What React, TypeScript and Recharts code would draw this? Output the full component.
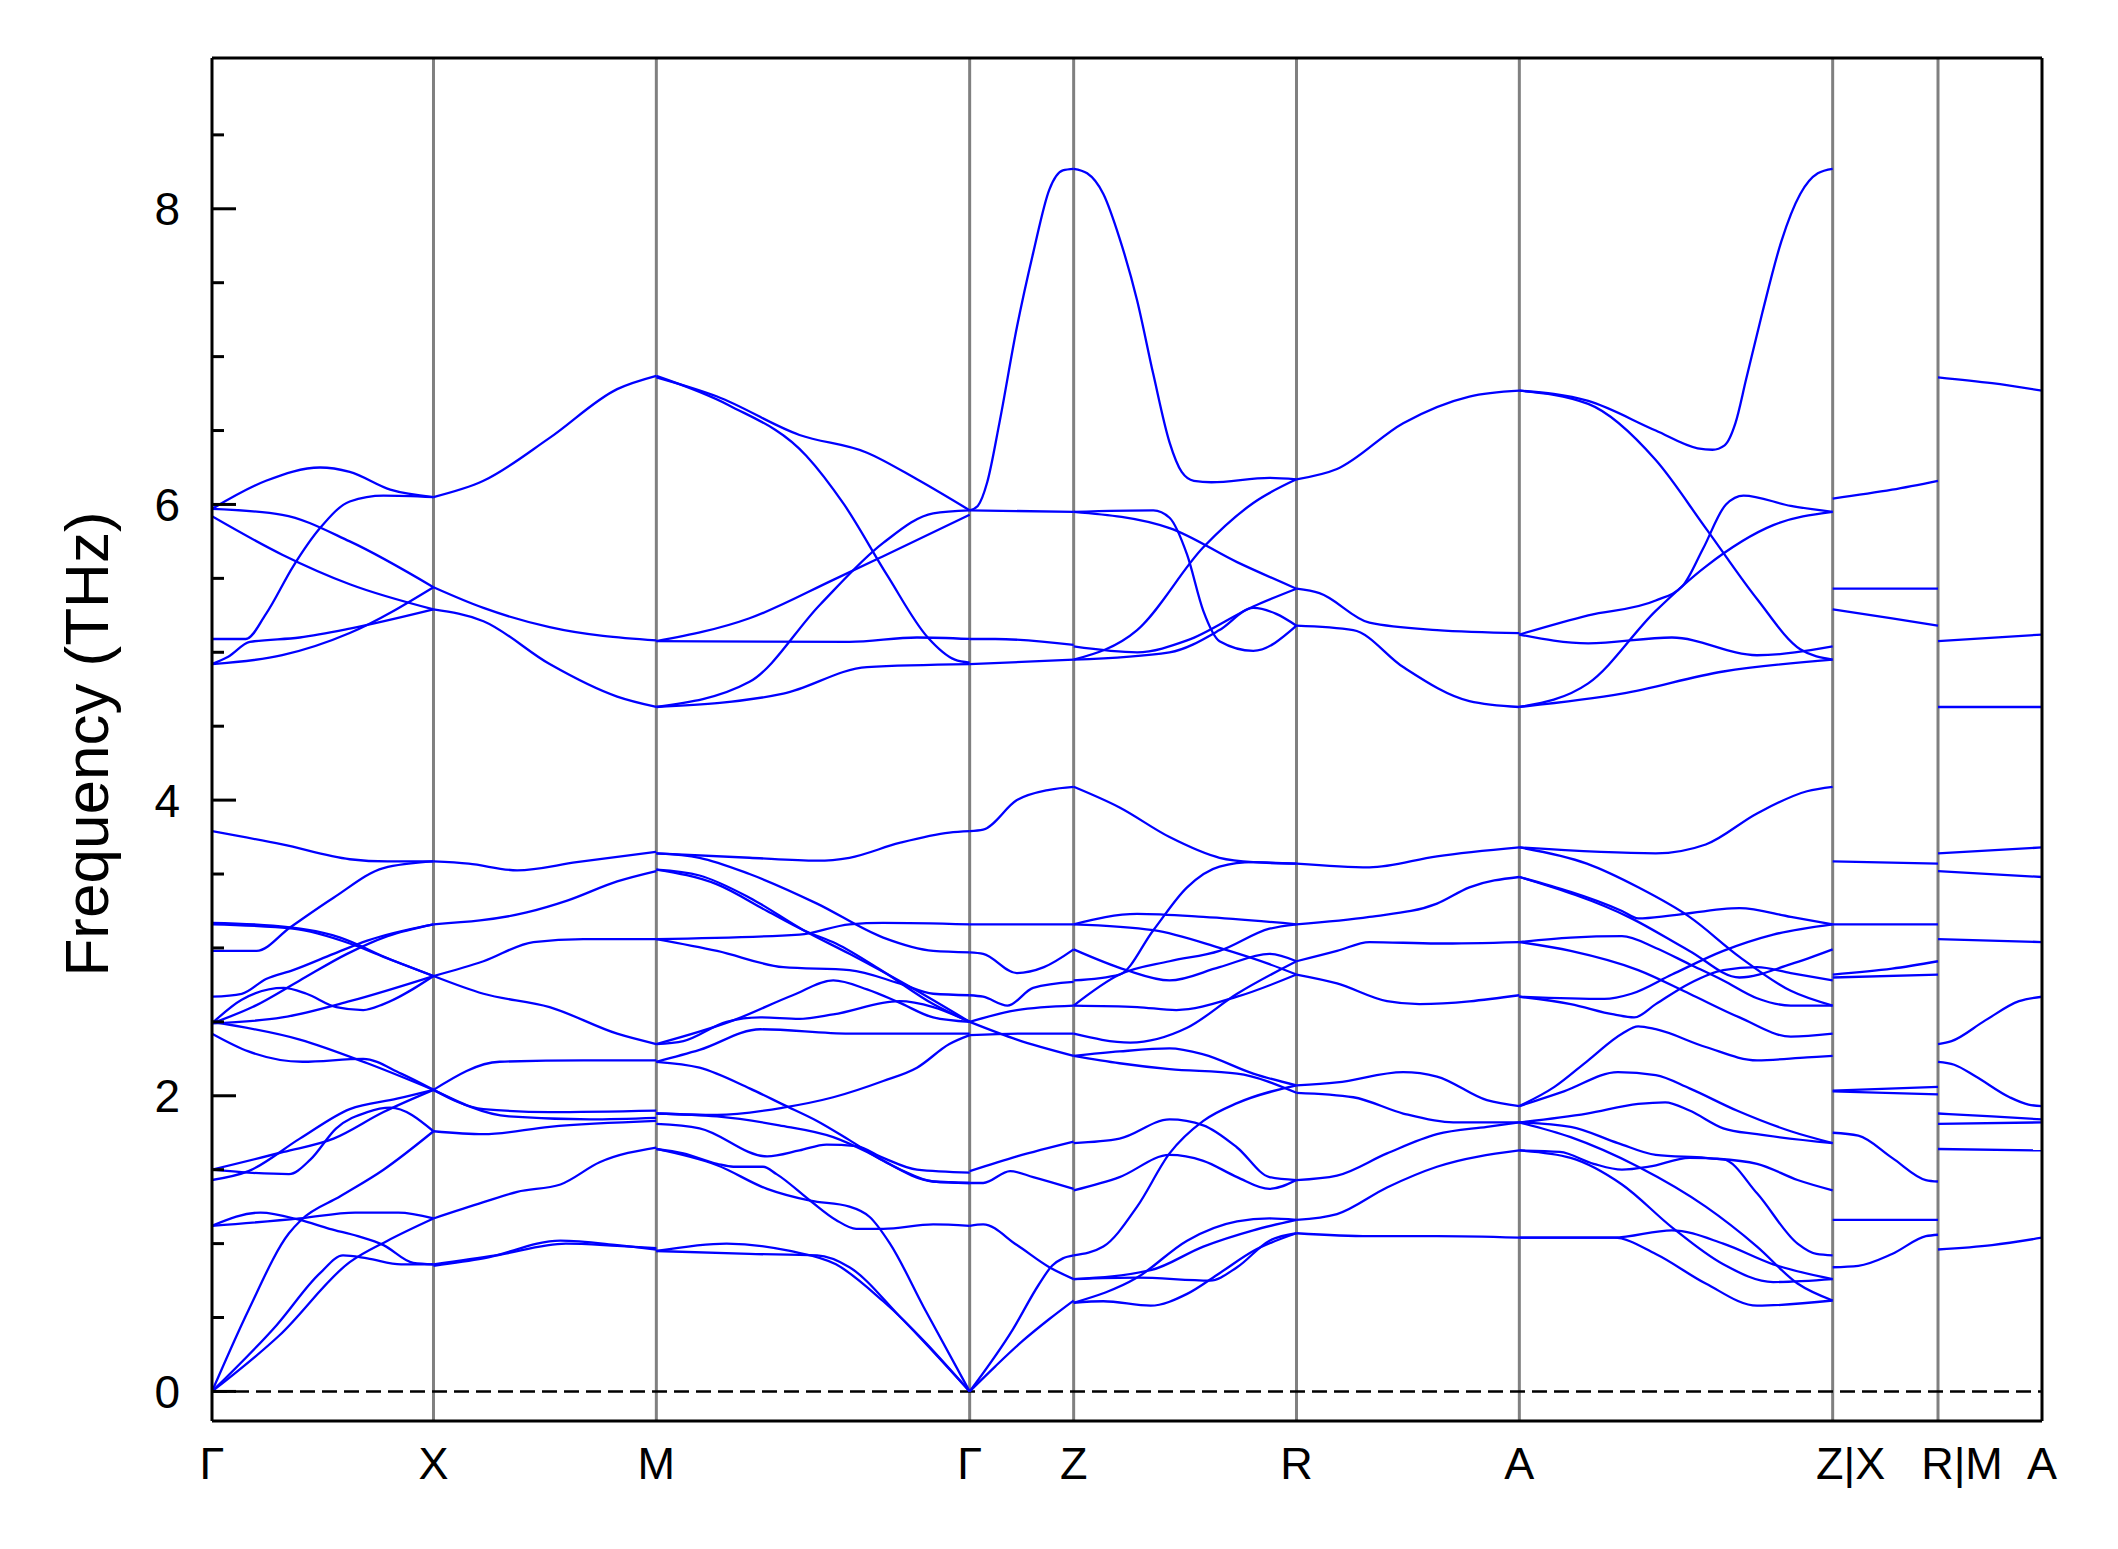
import React from "react";
import { LineChart, Line, XAxis, YAxis, ReferenceLine } from "recharts";

type Pt = [number, number];

// path positions of the high-symmetry points and their labels
const KPOINTS = [0, 164, 329, 561, 638, 803, 968, 1200, 1278, 1355];
const KLABELS = ["Γ", "X", "M", "Γ", "Z", "R", "A", "Z|X", "R|M", "A"];
const Y_TICKS = [0, 0.5, 1, 1.5, 2, 2.5, 3, 3.5, 4, 4.5, 5, 5.5, 6, 6.5, 7, 7.5, 8, 8.5];
const Y_LABELED = [0, 2, 4, 6, 8];

// band curves, one array per path segment: [path position, frequency THz]
const GAMMA_X: Pt[][] = [
  [[0, 0], [27, 0.55], [57, 1.07], [66, 1.16], [95, 1.32], [127, 1.5], [164, 1.76]],
  [[0, 0], [48, 0.45], [80, 0.8], [97, 0.92], [115, 0.9], [140, 0.86], [164, 0.86]],
  [[0, 0], [50, 0.38], [102, 0.875], [130, 1.02], [164, 1.17]],
  [[0, 1.12], [65, 1.17], [106, 1.21], [138, 1.21], [164, 1.17]],
  [[0, 1.12], [36, 1.21], [65, 1.16], [87, 1.1], [108, 1.05], [127, 0.99], [149, 0.87], [164, 0.86]],
  [[0, 1.43], [27, 1.49], [65, 1.71], [102, 1.91], [137, 1.98], [164, 2.04]],
  [[0, 1.5], [27, 1.48], [57, 1.47], [73, 1.57], [92, 1.78], [115, 1.89], [132, 1.92], [164, 1.76]],
  [[0, 1.5], [53, 1.62], [90, 1.71], [127, 1.89], [164, 2.04]],
  [[0, 2.5], [65, 2.38], [115, 2.22], [164, 2.04]],
  [[0, 2.42], [27, 2.3], [67, 2.23], [112, 2.25], [140, 2.15], [164, 2.04]],
  [[0, 3.79], [52, 3.7], [102, 3.6], [130, 3.585], [164, 3.585]],
  [[0, 2.98], [33, 2.98], [58, 3.14], [90, 3.34], [127, 3.54], [164, 3.585]],
  [[0, 3.16], [60, 3.13], [102, 3.03], [127, 2.94], [164, 2.81]],
  [[0, 3.17], [45, 3.15], [95, 3.07], [130, 2.93], [164, 2.81]],
  [[0, 2.67], [22, 2.69], [40, 2.79], [60, 2.85], [90, 2.96], [115, 3.05], [164, 3.16]],
  [[0, 2.49], [22, 2.65], [53, 2.73], [70, 2.69], [92, 2.6], [112, 2.58], [127, 2.62], [164, 2.81]],
  [[0, 2.49], [30, 2.6], [65, 2.78], [100, 2.96], [130, 3.08], [164, 3.16]],
  [[0, 2.49], [52, 2.53], [102, 2.64], [164, 2.81]],
  [[0, 5.97], [40, 6.16], [80, 6.25], [102, 6.22], [132, 6.1], [164, 6.05]],
  [[0, 5.09], [25, 5.09], [40, 5.26], [60, 5.58], [80, 5.84], [102, 6.02], [127, 6.06], [164, 6.05]],
  [[0, 5.97], [52, 5.93], [102, 5.75], [164, 5.44]],
  [[0, 5.92], [52, 5.66], [102, 5.46], [164, 5.29]],
  [[0, 4.92], [12, 4.97], [28, 5.07], [65, 5.1], [102, 5.16], [164, 5.29]],
  [[0, 4.92], [52, 4.98], [102, 5.13], [164, 5.44]],
];

const X_M: Pt[][] = [
  [[164, 0.85], [201, 0.9], [258, 1.02], [300, 0.99], [329, 0.96]],
  [[164, 0.86], [210, 0.92], [262, 1.0], [300, 0.985], [329, 0.97]],
  [[164, 1.17], [201, 1.28], [226, 1.35], [258, 1.4], [287, 1.55], [329, 1.65]],
  [[164, 1.76], [201, 1.74], [250, 1.79], [329, 1.83]],
  [[164, 2.04], [201, 1.91], [250, 1.89], [329, 1.9]],
  [[164, 2.04], [213, 2.23], [275, 2.24], [329, 2.24]],
  [[164, 2.04], [220, 1.86], [280, 1.84], [329, 1.85]],
  [[164, 2.81], [201, 2.69], [250, 2.6], [300, 2.42], [329, 2.35]],
  [[164, 2.81], [201, 2.91], [238, 3.04], [275, 3.06], [329, 3.06]],
  [[164, 3.16], [233, 3.24], [263, 3.32], [300, 3.45], [329, 3.52]],
  [[164, 3.585], [190, 3.57], [226, 3.525], [270, 3.58], [329, 3.65]],
  [[164, 5.44], [201, 5.3], [250, 5.17], [329, 5.08]],
  [[164, 5.29], [201, 5.21], [250, 4.92], [300, 4.7], [329, 4.63]],
  [[164, 6.05], [201, 6.16], [250, 6.45], [300, 6.78], [329, 6.87]],
];

const M_GAMMA: Pt[][] = [
  [[329, 0.95], [381, 1.0], [428, 0.95], [462, 0.86], [497, 0.61], [561, 0]],
  [[329, 0.95], [398, 0.93], [448, 0.92], [472, 0.84], [510, 0.5], [561, 0]],
  [[329, 1.64], [374, 1.53], [411, 1.37], [443, 1.29], [472, 1.25], [487, 1.18], [502, 1.0], [527, 0.57], [561, 0]],
  [[329, 1.64], [349, 1.61], [374, 1.54], [386, 1.52], [408, 1.52], [418, 1.47], [443, 1.29], [462, 1.16], [477, 1.1], [497, 1.1], [534, 1.13], [561, 1.12]],
  [[329, 2.23], [361, 2.19], [398, 2.05], [423, 1.94], [448, 1.83], [472, 1.7], [497, 1.56], [534, 1.42], [561, 1.41]],
  [[329, 1.88], [374, 1.87], [423, 1.92], [460, 1.99], [497, 2.1], [522, 2.19], [546, 2.35], [561, 2.41]],
  [[329, 1.81], [361, 1.78], [411, 1.59], [435, 1.63], [455, 1.67], [477, 1.66], [497, 1.58], [522, 1.5], [561, 1.48]],
  [[329, 1.88], [374, 1.86], [420, 1.8], [460, 1.72], [485, 1.62], [510, 1.5], [534, 1.42], [561, 1.41]],
  [[329, 2.35], [349, 2.37], [381, 2.5], [406, 2.53], [435, 2.52], [460, 2.55], [509, 2.64], [534, 2.6], [561, 2.5]],
  [[329, 2.23], [361, 2.31], [406, 2.45], [472, 2.42], [520, 2.42], [561, 2.42]],
  [[329, 2.35], [386, 2.51], [430, 2.68], [460, 2.78], [485, 2.72], [509, 2.63], [534, 2.53], [561, 2.5]],
  [[329, 3.64], [398, 3.61], [448, 3.59], [472, 3.61], [509, 3.71], [546, 3.78], [561, 3.79]],
  [[329, 3.64], [361, 3.61], [398, 3.5], [448, 3.3], [497, 3.07], [534, 2.98], [561, 2.97]],
  [[329, 3.53], [374, 3.43], [411, 3.25], [438, 3.12], [462, 3.03], [497, 2.84], [534, 2.62], [561, 2.5]],
  [[329, 3.53], [361, 3.49], [398, 3.34], [438, 3.12], [472, 2.96], [522, 2.71], [561, 2.5]],
  [[329, 3.06], [435, 3.09], [472, 3.16], [497, 3.17], [561, 3.16]],
  [[329, 3.06], [374, 2.98], [423, 2.87], [472, 2.85], [509, 2.76], [534, 2.69], [561, 2.68]],
  [[329, 6.86], [374, 6.73], [435, 6.47], [485, 6.35], [522, 6.17], [561, 5.96]],
  [[329, 6.87], [383, 6.67], [440, 6.33], [468, 6.0], [500, 5.52], [530, 5.1], [550, 4.95], [561, 4.93]],
  [[329, 5.075], [472, 5.07], [522, 5.1], [561, 5.09]],
  [[329, 5.075], [398, 5.23], [460, 5.49], [497, 5.65], [561, 5.93]],
  [[329, 4.63], [398, 4.8], [450, 5.32], [497, 5.74], [534, 5.94], [561, 5.96]],
  [[329, 4.63], [423, 4.72], [485, 4.9], [561, 4.92]],
];

const GAMMA_Z: Pt[][] = [
  [[561, 0], [593, 0.42], [612, 0.72], [622, 0.85], [630, 0.9], [638, 0.92]],
  [[561, 0], [580, 0.17], [600, 0.34], [620, 0.49], [638, 0.615]],
  [[561, 1.12], [571, 1.13], [596, 0.99], [620, 0.84], [638, 0.76]],
  [[561, 1.41], [571, 1.41], [591, 1.49], [608, 1.45], [638, 1.37]],
  [[561, 1.49], [596, 1.59], [638, 1.69]],
  [[561, 2.41], [600, 2.42], [638, 2.42]],
  [[561, 2.5], [596, 2.58], [638, 2.61]],
  [[561, 2.5], [596, 2.38], [638, 2.27]],
  [[561, 2.68], [571, 2.67], [589, 2.61], [608, 2.73], [638, 2.77]],
  [[561, 2.97], [571, 2.96], [596, 2.83], [616, 2.87], [638, 2.99]],
  [[561, 3.16], [638, 3.16]],
  [[561, 3.79], [571, 3.8], [596, 4.0], [620, 4.07], [638, 4.09]],
  [[561, 5.96], [567, 5.99], [574, 6.15], [583, 6.55], [596, 7.2], [608, 7.7], [620, 8.13], [630, 8.26], [638, 8.27]],
  [[561, 5.96], [638, 5.95]],
  [[561, 5.09], [580, 5.09], [638, 5.05]],
  [[561, 4.92], [638, 4.95]],
];

const Z_R: Pt[][] = [
  [[638, 0.6], [660, 0.61], [695, 0.58], [722, 0.66], [746, 0.8], [771, 0.95], [803, 1.07]],
  [[638, 0.6], [685, 0.77], [722, 1.02], [759, 1.15], [783, 1.17], [803, 1.16]],
  [[638, 0.76], [685, 0.77], [739, 0.75], [759, 0.84], [783, 1.02], [803, 1.07]],
  [[638, 0.76], [695, 0.82], [734, 0.98], [771, 1.09], [803, 1.16]],
  [[638, 0.92], [660, 0.98], [685, 1.25], [709, 1.61], [734, 1.83], [759, 1.95], [803, 2.07]],
  [[638, 1.36], [672, 1.45], [709, 1.6], [734, 1.56], [759, 1.45], [783, 1.37], [803, 1.43]],
  [[638, 1.68], [672, 1.71], [709, 1.84], [734, 1.8], [759, 1.65], [783, 1.45], [803, 1.43]],
  [[638, 2.27], [672, 2.22], [709, 2.18], [759, 2.15], [803, 2.02]],
  [[638, 2.27], [672, 2.3], [709, 2.32], [734, 2.28], [771, 2.15], [803, 2.07]],
  [[638, 2.42], [680, 2.36], [722, 2.46], [759, 2.69], [803, 2.91]],
  [[638, 2.61], [685, 2.6], [714, 2.58], [759, 2.67], [803, 2.82]],
  [[638, 2.61], [672, 2.82], [709, 2.91], [746, 2.98], [783, 3.13], [803, 3.16]],
  [[638, 2.78], [672, 2.82], [697, 3.12], [722, 3.41], [746, 3.55], [771, 3.58], [803, 3.57]],
  [[638, 2.99], [677, 2.85], [709, 2.78], [746, 2.87], [783, 2.96], [803, 2.91]],
  [[638, 3.16], [685, 3.23], [734, 3.21], [803, 3.16]],
  [[638, 3.16], [697, 3.12], [746, 3.0], [783, 2.89], [803, 2.82]],
  [[638, 4.09], [672, 3.95], [709, 3.75], [746, 3.61], [771, 3.58], [803, 3.57]],
  [[638, 8.27], [648, 8.24], [660, 8.1], [672, 7.8], [685, 7.38], [697, 6.88], [709, 6.42], [718, 6.22], [727, 6.16], [740, 6.15], [783, 6.18], [803, 6.17]],
  [[638, 4.95], [685, 5.15], [734, 5.71], [771, 6.01], [803, 6.17]],
  [[638, 5.95], [697, 5.96], [709, 5.91], [722, 5.66], [734, 5.28], [746, 5.075], [771, 5.01], [803, 5.18]],
  [[638, 5.95], [709, 5.84], [759, 5.61], [803, 5.43]],
  [[638, 5.04], [685, 5.0], [722, 5.08], [771, 5.31], [803, 5.43]],
  [[638, 4.95], [709, 5.0], [746, 5.15], [771, 5.3], [788, 5.26], [803, 5.18]],
];

const R_A: Pt[][] = [
  [[803, 1.07], [857, 1.05], [907, 1.05], [968, 1.04]],
  [[803, 1.16], [833, 1.2], [870, 1.38], [907, 1.52], [968, 1.63]],
  [[803, 1.43], [833, 1.46], [870, 1.61], [907, 1.74], [944, 1.79], [968, 1.82]],
  [[803, 2.02], [845, 1.99], [882, 1.88], [919, 1.82], [968, 1.82]],
  [[803, 2.07], [833, 2.09], [882, 2.16], [907, 2.13], [944, 1.97], [968, 1.93]],
  [[803, 2.82], [833, 2.76], [870, 2.64], [894, 2.62], [968, 2.68]],
  [[803, 2.91], [833, 2.98], [857, 3.04], [907, 3.03], [968, 3.04]],
  [[803, 3.16], [857, 3.21], [907, 3.3], [931, 3.41], [968, 3.48]],
  [[803, 3.57], [857, 3.545], [907, 3.62], [968, 3.68]],
  [[803, 5.18], [845, 5.15], [882, 4.9], [931, 4.67], [968, 4.63]],
  [[803, 5.43], [820, 5.4], [857, 5.2], [907, 5.15], [968, 5.13]],
  [[803, 6.17], [833, 6.24], [882, 6.55], [931, 6.73], [968, 6.77]],
];

const A_Z: Pt[][] = [
  [[968, 1.93], [994, 2.06], [1019, 2.24], [1044, 2.42], [1056, 2.47], [1069, 2.45], [1106, 2.33], [1144, 2.24], [1181, 2.26], [1200, 2.27]],
  [[968, 1.93], [1001, 2.03], [1041, 2.16], [1069, 2.14], [1094, 2.05], [1129, 1.9], [1169, 1.76], [1200, 1.68]],
  [[968, 1.82], [1018, 1.88], [1056, 1.945], [1076, 1.956], [1094, 1.9], [1119, 1.78], [1144, 1.74], [1200, 1.68]],
  [[968, 1.82], [1006, 1.79], [1041, 1.68], [1069, 1.6], [1106, 1.58], [1144, 1.54], [1174, 1.43], [1200, 1.36]],
  [[968, 1.82], [1006, 1.72], [1056, 1.52], [1106, 1.25], [1144, 0.98], [1174, 0.73], [1200, 0.615]],
  [[968, 1.63], [998, 1.62], [1023, 1.54], [1044, 1.5], [1064, 1.52], [1094, 1.58], [1119, 1.57], [1144, 1.34], [1174, 1.0], [1188, 0.93], [1200, 0.92]],
  [[968, 1.63], [1006, 1.58], [1044, 1.4], [1081, 1.11], [1119, 0.86], [1156, 0.74], [1200, 0.76]],
  [[968, 1.04], [1038, 1.04], [1081, 1.09], [1119, 1.0], [1156, 0.86], [1200, 0.76]],
  [[968, 1.04], [1038, 1.04], [1069, 0.93], [1106, 0.73], [1144, 0.58], [1200, 0.615]],
  [[968, 3.68], [1069, 3.64], [1106, 3.7], [1144, 3.91], [1181, 4.06], [1200, 4.09]],
  [[968, 3.68], [1018, 3.57], [1056, 3.41], [1094, 3.21], [1131, 2.94], [1169, 2.71], [1200, 2.61]],
  [[968, 3.48], [1044, 3.25], [1056, 3.2], [1081, 3.22], [1131, 3.27], [1169, 3.21], [1200, 3.16]],
  [[968, 3.48], [1051, 3.2], [1094, 2.98], [1131, 2.8], [1169, 2.89], [1200, 2.99]],
  [[968, 3.04], [1006, 3.07], [1044, 3.08], [1069, 3.0], [1094, 2.89], [1119, 2.78], [1144, 2.66], [1169, 2.61], [1200, 2.61]],
  [[968, 3.04], [1006, 2.98], [1056, 2.85], [1094, 2.69], [1131, 2.53], [1169, 2.4], [1200, 2.42]],
  [[968, 2.67], [1031, 2.655], [1051, 2.69], [1081, 2.82], [1119, 2.98], [1156, 3.09], [1200, 3.16]],
  [[968, 2.67], [1006, 2.62], [1038, 2.55], [1053, 2.53], [1069, 2.62], [1094, 2.76], [1119, 2.85], [1144, 2.87], [1169, 2.83], [1200, 2.78]],
  [[968, 6.77], [1019, 6.7], [1069, 6.5], [1100, 6.38], [1111, 6.37], [1120, 6.4], [1128, 6.55], [1136, 6.85], [1148, 7.3], [1162, 7.78], [1176, 8.1], [1189, 8.24], [1200, 8.27]],
  [[968, 6.77], [1019, 6.68], [1069, 6.3], [1106, 5.84], [1144, 5.36], [1176, 5.02], [1200, 4.95]],
  [[968, 5.12], [1019, 5.25], [1069, 5.35], [1089, 5.45], [1104, 5.7], [1121, 6.0], [1134, 6.06], [1169, 5.99], [1200, 5.95]],
  [[968, 5.12], [1019, 5.06], [1081, 5.1], [1144, 4.98], [1200, 5.04]],
  [[968, 4.63], [1019, 4.79], [1069, 5.28], [1106, 5.58], [1156, 5.86], [1200, 5.95]],
  [[968, 4.63], [1044, 4.72], [1119, 4.87], [1200, 4.95]],
];

const X_R: Pt[][] = [
  [[1200, 0.84], [1219, 0.85], [1244, 0.93], [1269, 1.05], [1278, 1.06]],
  [[1200, 1.16], [1278, 1.16]],
  [[1200, 1.75], [1219, 1.73], [1244, 1.58], [1269, 1.43], [1278, 1.42]],
  [[1200, 2.035], [1278, 2.06]],
  [[1200, 2.03], [1278, 2.01]],
  [[1200, 2.82], [1244, 2.86], [1278, 2.91]],
  [[1200, 2.8], [1278, 2.82]],
  [[1200, 3.16], [1278, 3.16]],
  [[1200, 3.585], [1278, 3.57]],
  [[1200, 5.29], [1244, 5.23], [1278, 5.18]],
  [[1200, 5.43], [1278, 5.43]],
  [[1200, 6.04], [1244, 6.1], [1278, 6.16]],
];

const M_A: Pt[][] = [
  [[1278, 0.96], [1318, 0.99], [1355, 1.04]],
  [[1278, 1.64], [1355, 1.63]],
  [[1278, 1.81], [1355, 1.82]],
  [[1278, 1.88], [1318, 1.86], [1355, 1.84]],
  [[1278, 2.23], [1290, 2.21], [1306, 2.13], [1331, 1.99], [1345, 1.94], [1355, 1.93]],
  [[1278, 2.35], [1288, 2.37], [1313, 2.51], [1338, 2.64], [1355, 2.67]],
  [[1278, 3.06], [1355, 3.04]],
  [[1278, 3.52], [1355, 3.48]],
  [[1278, 3.64], [1355, 3.68]],
  [[1278, 4.63], [1355, 4.63]],
  [[1278, 5.075], [1355, 5.12]],
  [[1278, 6.86], [1318, 6.82], [1355, 6.77]],
];

const SEGMENTS = [GAMMA_X, X_M, M_GAMMA, GAMMA_Z, Z_R, R_A, A_Z, X_R, M_A];
const CURVES = SEGMENTS.flat().map((c) => c.map(([x, f]) => ({ x, f })));

const FONT = "'Liberation Sans', Arial, Helvetica, sans-serif";
const PLOT_LEFT = 212;
const PLOT_BOTTOM = 1421;

const YTick = (props: any) => {
  const { y, payload } = props;
  const major = Y_LABELED.includes(payload.value);
  return (
    <g>
      <line x1={PLOT_LEFT} x2={PLOT_LEFT + (major ? 24 : 12)} y1={y} y2={y} stroke="#000" strokeWidth={3} />
      {major && (
        <text x={180} y={y} dy="0.36em" textAnchor="end" fontSize={46} fontFamily={FONT} fill="#000">
          {payload.value}
        </text>
      )}
    </g>
  );
};

const XTick = (props: any) => {
  const { x, payload } = props;
  const i = KPOINTS.indexOf(payload.value);
  const label = KLABELS[i];
  // the two joined labels sit a little right of their lines in the reference
  const shift = label === "Z|X" ? 18 : label === "R|M" ? 24 : 0;
  return (
    <text x={x + shift} y={PLOT_BOTTOM + 58} textAnchor="middle" fontSize={45} fontFamily={FONT} fill="#000">
      {label}
    </text>
  );
};

const YLabel = () => (
  <text
    x={108}
    y={744}
    transform="rotate(-90 108 744)"
    textAnchor="middle"
    fontSize={62}
    fontFamily={FONT}
    fill="#000"
  >
    Frequency (THz)
  </text>
);

export default function App() {
  return (
    <div style={{ position: "absolute", left: 0, top: 0, width: 2118, height: 1549, background: "#fff" }}>
      <LineChart width={2118} height={1549} margin={{ top: 58, right: 76, bottom: 68, left: 132 }}>
        <XAxis
          type="number"
          dataKey="x"
          domain={[0, 1355]}
          ticks={KPOINTS}
          interval={0}
          allowDataOverflow
          tick={<XTick />}
          tickLine={false}
          tickSize={0}
          height={60}
          axisLine={{ stroke: "#000", strokeWidth: 3 }}
        />
        <YAxis
          type="number"
          domain={[-0.2, 9.02]}
          ticks={Y_TICKS}
          interval={0}
          allowDataOverflow
          tick={<YTick />}
          tickLine={false}
          tickSize={0}
          width={80}
          axisLine={{ stroke: "#000", strokeWidth: 3 }}
          label={<YLabel />}
        />
        {KPOINTS.slice(1, -1).map((k, i) => (
          <ReferenceLine key={"k" + i} x={k} stroke="#808080" strokeWidth={3} />
        ))}
        <ReferenceLine y={0} stroke="#000" strokeWidth={2.6} strokeDasharray="15 7" />
        {CURVES.map((d, i) => (
          <Line
            key={i}
            data={d}
            dataKey="f"
            type="monotone"
            stroke="#0000ff"
            strokeWidth={2.3}
            dot={false}
            activeDot={false}
            isAnimationActive={false}
          />
        ))}
        <ReferenceLine x={1355} stroke="#000" strokeWidth={3} />
        <ReferenceLine y={9.02} stroke="#000" strokeWidth={3} />
      </LineChart>
    </div>
  );
}
